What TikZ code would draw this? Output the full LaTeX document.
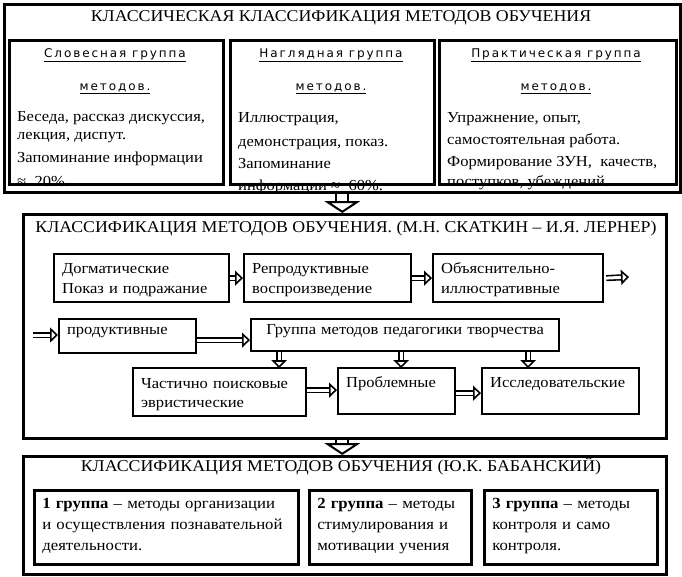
\documentclass[tikz,border=0pt]{standalone}
\usepackage{fontspec}
\setmainfont[FakeStretch=1.08]{Liberation Serif}
\newfontfamily\hdfont[LetterSpace=16]{DejaVu Sans}
\usetikzlibrary{arrows.meta,positioning}

\begin{document}
\begin{tikzpicture}[x=1pt,y=-1pt]

\tikzstyle{frame} = [rectangle, draw=black, line width=2.6pt, anchor=north west, inner sep=0pt]
\tikzstyle{sq} = [rectangle, draw=black, line width=2.2pt, anchor=north west, align=left, inner xsep=8pt, inner ysep=4pt, font=\fontsize{15.3}{20}\selectfont]
\tikzstyle{grpbox} = [sq, line width=2.6pt, inner xsep=8pt, text height=14pt, text depth=52pt, font=\fontsize{15.5}{21}\selectfont]
\tikzstyle{ttl} = [inner sep=0pt, font=\fontsize{16.5}{18}\selectfont]
\tikzstyle{hd} = [inner sep=0pt, font=\hdfont\fontsize{12}{13}\selectfont]
\tikzstyle{body} = [anchor=north west, align=left, inner sep=0pt, font=\fontsize{15.3}{22}\selectfont]
\tikzstyle{bigarr} = [double, double distance=10pt, line width=2pt, -{Triangle[open, length=12pt, width=36pt, line width=2pt]}]
\tikzstyle{arr} = [double, double distance=3pt, line width=1.6pt, -{Triangle[open, length=8pt, width=15pt, line width=1.6pt]}]

\useasboundingbox (0,0) rectangle (682,576);

% klassicheskaya klassifikaciya
\node[ttl] (klasst) at (341,18) {КЛАССИЧЕСКАЯ КЛАССИФИКАЦИЯ МЕТОДОВ ОБУЧЕНИЯ};
\node[hd] (slovh) at (115,55) {\underline{Словесная группа}};
\node[hd] (slovm) at (115,89) {\underline{методов.}};
\node[body] (slovt) at (17,111) {Беседа, рассказ дискуссия,\\[-4pt] лекция, диспут.\\[1pt] Запоминание информации\\[2pt] ≈ \ 20\%.};
\node[hd] (naglh) at (331,55) {\underline{Наглядная группа}};
\node[hd] (naglm) at (331,89) {\underline{методов.}};
\node[body] (naglt) at (238,112) {Иллюстрация,\\[2pt] демонстрация, показ.\\ Запоминание\\ информации ≈ \ 60\%.};
\node[hd] (prakh) at (556,55) {\underline{Практическая группа}};
\node[hd] (prakm) at (556,89) {\underline{методов.}};
\node[body] (prakt) at (447,112) {Упражнение, опыт,\\ самостоятельная работа.\\ Формирование ЗУН, \ качеств,\\[-2pt] поступков, убеждений.};
\node[frame, minimum width=676, minimum height=188] (klass) at (3,3) {};
\node[frame, minimum width=214, minimum height=144] (slov) at (8,39) {};
\node[frame, minimum width=204, minimum height=144] (nagl) at (229,39) {};
\node[frame, minimum width=237, minimum height=144] (prak) at (438,39) {};

% Skatkin - Lerner
\node[frame, minimum width=643, minimum height=224] (skat) at (22,213) {};
\node[ttl] (skatt) at (346,229) {КЛАССИФИКАЦИЯ МЕТОДОВ ОБУЧЕНИЯ. (М.Н. СКАТКИН – И.Я. ЛЕРНЕР)};
\node[sq, text width=159, text height=15pt, text depth=25pt] (dogm) at (53,253) {Догматические\\Показ и подражание};
\node[sq, text width=151, text height=15pt, text depth=25pt] (repr) at (243,253) {Репродуктивные\\воспроизведение};
\node[sq, text width=154, text height=15pt, text depth=25pt] (obya) at (432,253) {Объяснительно-\\иллюстративные};
\coordinate (obyaend) at (629,277);
\coordinate (prodst) at (33,335);
\node[sq, text width=121, text height=11pt, text depth=15pt] (prod) at (58,318) {продуктивные};
\node[sq, align=center, text width=292, text height=11pt, text depth=13pt] (grp) at (250,318) {Группа методов педагогики творчества};
\node[sq, text width=157, text height=16pt, text depth=24pt, font=\fontsize{15.3}{19}\selectfont] (chast) at (132,367) {Частично поисковые\\эвристические};
\node[sq, text width=101, text height=15pt, text depth=23pt] (probl) at (337,367) {Проблемные};
\node[sq, text width=141, text height=15pt, text depth=23pt] (issl) at (481,367) {Исследовательские};

% Babanskiy
\node[frame, minimum width=643, minimum height=118] (bab) at (22,455) {};
\node[ttl] (babt) at (341,466) {КЛАССИФИКАЦИЯ МЕТОДОВ ОБУЧЕНИЯ (Ю.К. БАБАНСКИЙ)};
\node[grpbox, text width=248] (gr1) at (33,489) {\textbf{1 группа} – методы организации\\и осуществления познавательной\\деятельности.};
\node[grpbox, text width=146] (gr2) at (308,489) {\textbf{2 группа} – методы\\стимулирования и\\мотивации учения};
\node[grpbox, text width=157] (gr3) at (483,489) {\textbf{3 группа} – методы\\контроля и само\\контроля.};

% arrows
\draw[bigarr] (klass.south) -- (klass.south |- skat.north);
\draw[bigarr] (skat.south -| klass.south) -- (klass.south |- bab.north);
\draw[arr] (dogm.east) -- (dogm.east -| repr.west);
\draw[arr] (repr.east) -- (repr.east -| obya.west);
\draw[arr] ([xshift=2]obya.east) -- (obyaend);
\draw[arr] (prodst) -- (prodst -| prod.west);
\draw[arr] ([yshift=-4]prod.east) -- ([yshift=-4]prod.east -| grp.west);
\draw[arr] ([xshift=-126]grp.south) -- ++(0,16);
\draw[arr] ([xshift=-4]grp.south) -- ++(0,16);
\draw[arr] ([xshift=123]grp.south) -- ++(0,16);
\draw[arr] ([yshift=2]chast.east) -- ([yshift=2]chast.east -| probl.west);
\draw[arr] ([yshift=-2]probl.east) -- ([yshift=-2]probl.east -| issl.west);
\end{tikzpicture}
\end{document}
